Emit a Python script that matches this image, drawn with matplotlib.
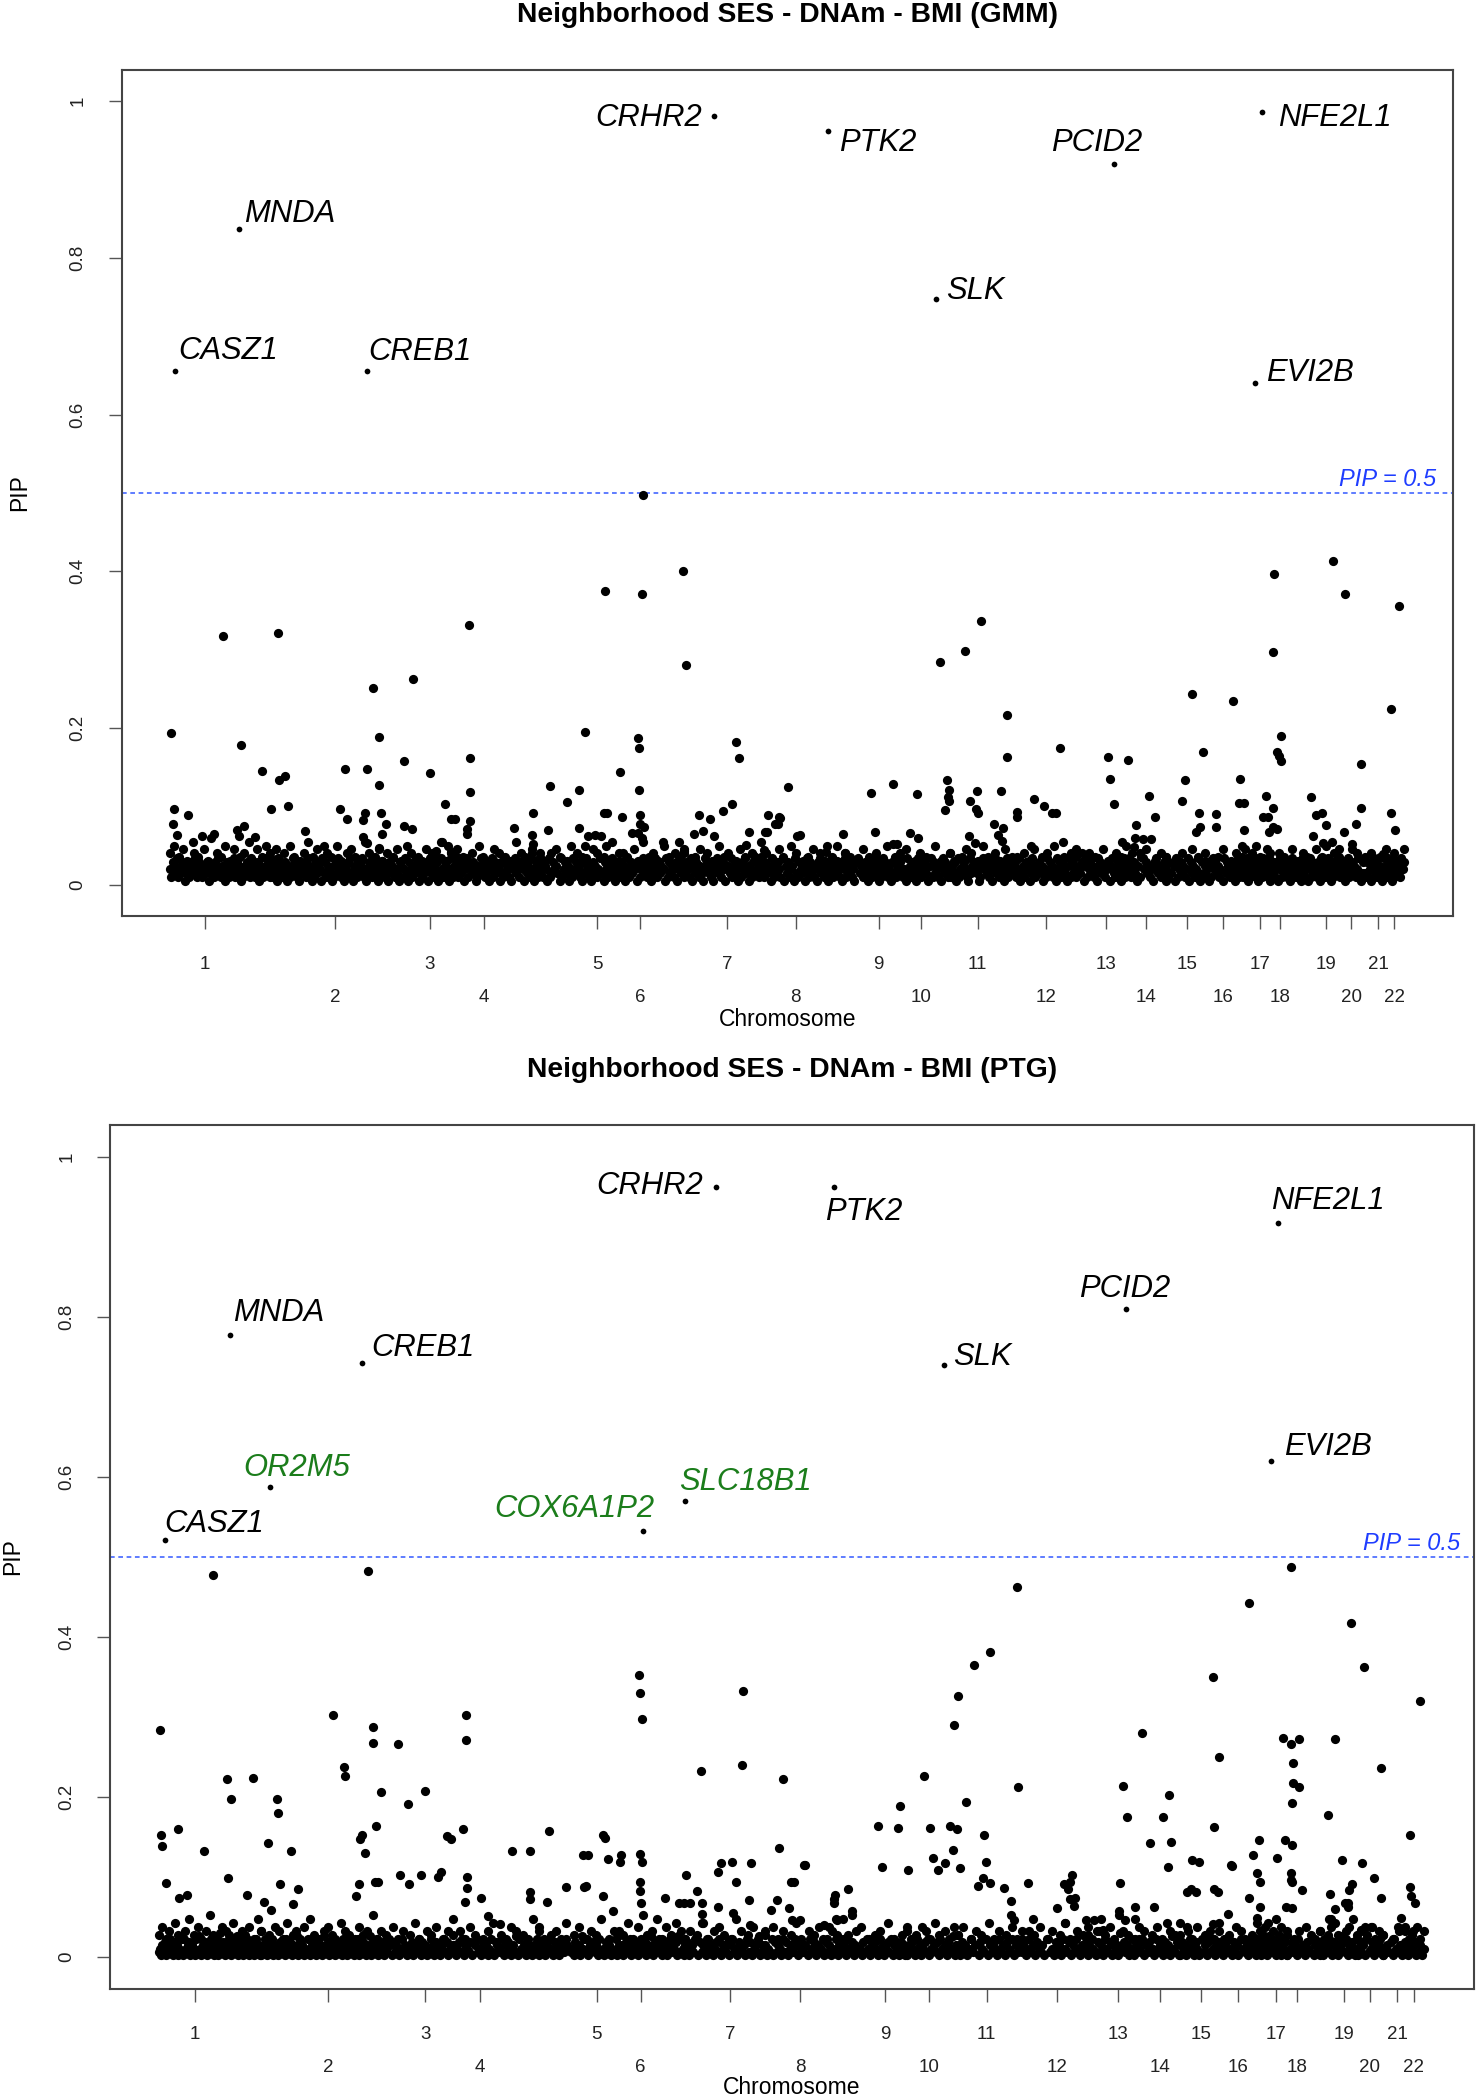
import numpy as np
import matplotlib.pyplot as plt
from matplotlib.transforms import offset_copy, blended_transform_factory

plt.rcParams['font.family'] = ['Liberation Sans', 'DejaVu Sans']

# chromosome layout on the cumulative position axis (0-1000)
chromosomes = [str(i) for i in range(1, 23)]
chrom_centers = [62.4, 160.0, 231.4, 271.6, 357.1, 389.3, 454.7, 506.0, 568.4, 600.6,
                 642.9, 694.2, 739.4, 769.6, 799.8, 827.0, 855.1, 870.2, 904.4, 923.5,
                 943.7, 955.7]
chrom_bounds = [36, 111.2, 195.7, 251.5, 314.4, 373.2, 422.0, 480.4, 537.2, 584.5, 621.8,
                668.6, 716.8, 754.5, 784.7, 813.4, 841.1, 862.7, 887.3, 914.0, 933.6,
                949.7, 963]

# ---- GMM panel ----
gmm_genes = ["CASZ1", "MNDA", "CREB1", "CRHR2", "PTK2", "SLK", "PCID2", "EVI2B", "NFE2L1"]
gmm_gene_x = [39.9, 88.1, 184.2, 444.5, 530.4, 611.9, 745.0, 850.9, 856.2]
gmm_gene_pip = [0.656, 0.837, 0.656, 0.981, 0.962, 0.748, 0.920, 0.641, 0.986]

# CpGs above the main band
gmm_x = [36.5, 75.7, 117, 89.1, 38.8, 38.5, 49.9, 41.1, 105.2, 117.6, 122.7, 124.5, 111.6, 86.4, 88,
         91.5, 137.8, 69, 60, 99.9,
         188.7, 218.3, 193, 167.9, 184, 211.6, 231.3, 193, 163.6, 169, 182.7, 181.4, 194.4, 198,
         181, 184, 195, 193.3, 212, 218, 242.4, 247, 250.5, 260.5, 261.5, 261.2, 261.3, 259,
         259.5, 240, 245, 236, 247, 152,
         362.5, 390.3, 421.2, 423.9, 391.3, 348.1, 388, 388.5, 374.2, 321.6, 343.4, 388.7, 334,
         308.8, 362, 364, 375.3, 294.8, 319.9, 343.4, 389, 389.5, 392, 388, 390.5, 383.3, 360,
         350, 355, 363.5, 347.5, 308, 308.8, 308,
         461.4, 463.8, 451.2, 458, 433.6, 441.6, 436.3, 430, 445, 406.8, 418.8, 470.8, 468.5,
         500.7, 485.6, 494, 490.6, 483.2, 507.4, 482, 475, 422.2,
         509.5, 530, 529, 542, 543, 484.5, 493.8, 492.5, 562.8, 579, 597.2, 565.9, 568, 579,
         582, 592, 598,
         614.4, 633.2, 645.6, 664.8, 664.8, 620, 621.5, 620.5, 621.5, 618, 642.2, 637, 641.5,
         643, 660.4, 672.7, 672.7, 684.8, 693, 698.5, 701.5, 636, 641, 655, 658, 662, 661,
         682.6, 707.1, 721.5, 705,
         740.4, 755.9, 742.5, 745, 761.8, 771.4, 776.2, 765, 751, 761, 760, 773, 767,
         803.6, 798.8, 796, 812.5, 809.4, 810, 807, 821.9, 821.9, 834.9, 840, 839.5, 843, 843,
         865.8, 864.9, 871, 867.5, 869, 871, 859.6, 857, 861, 864.9, 862, 864.9, 868,
         909.5, 919.1, 893.3, 897, 901.5, 904.6, 895, 902, 909, 931.1, 931.1, 926.9, 918, 924,
         959.6, 953.4, 953.4, 956.2, 947]
gmm_pip = [0.193, 0.317, 0.321, 0.178, 0.097, 0.077, 0.089, 0.063, 0.145, 0.133, 0.139, 0.101,
           0.097, 0.070, 0.062, 0.075, 0.068, 0.065, 0.062, 0.061,
           0.251, 0.262, 0.189, 0.148, 0.148, 0.158, 0.142, 0.127, 0.097, 0.084, 0.092, 0.083,
           0.092, 0.078, 0.061, 0.053, 0.065, 0.047, 0.075, 0.071, 0.103, 0.084, 0.084, 0.332,
           0.162, 0.118, 0.081, 0.071, 0.065, 0.055, 0.049, 0.043, 0.042, 0.050,
           0.375, 0.371, 0.401, 0.280, 0.498, 0.195, 0.187, 0.175, 0.144, 0.126, 0.121, 0.121,
           0.106, 0.092, 0.092, 0.092, 0.086, 0.072, 0.070, 0.072, 0.089, 0.078, 0.074, 0.066,
           0.060, 0.066, 0.062, 0.062, 0.063, 0.050, 0.050, 0.063, 0.052, 0.040,
           0.182, 0.162, 0.094, 0.103, 0.089, 0.084, 0.069, 0.065, 0.062, 0.055, 0.055, 0.067,
           0.051, 0.125, 0.089, 0.085, 0.078, 0.067, 0.062, 0.044, 0.036, 0.043,
           0.063, 0.049, 0.042, 0.065, 0.040, 0.067, 0.087, 0.078, 0.117, 0.128, 0.116, 0.067,
           0.032, 0.052, 0.052, 0.066, 0.060,
           0.284, 0.298, 0.336, 0.217, 0.163, 0.134, 0.121, 0.112, 0.107, 0.095, 0.120, 0.107,
           0.097, 0.091, 0.119, 0.093, 0.086, 0.110, 0.100, 0.092, 0.092, 0.062, 0.053, 0.078,
           0.063, 0.072, 0.056, 0.049, 0.054, 0.041, 0.175,
           0.163, 0.159, 0.135, 0.103, 0.076, 0.113, 0.086, 0.040, 0.054, 0.060, 0.048, 0.058,
           0.058,
           0.244, 0.133, 0.107, 0.169, 0.092, 0.073, 0.067, 0.090, 0.073, 0.234, 0.135, 0.104,
           0.104, 0.070,
           0.397, 0.297, 0.190, 0.169, 0.164, 0.158, 0.113, 0.087, 0.087, 0.098, 0.067, 0.074,
           0.071,
           0.413, 0.371, 0.112, 0.089, 0.092, 0.076, 0.062, 0.053, 0.054, 0.154, 0.098, 0.077,
           0.067, 0.052,
           0.356, 0.224, 0.092, 0.070, 0.039]

# main band of low-PIP CpGs, one digit per CpG in position order
# (PIP = base + step * digit, '.' = no CpG at that slot)
gmm_band = [
    "3152461325402315342613521432503241526314203512436152403142531624135023146251",
    "2415306241352031462513042351624031524306251432041526314023516204315246130254136250314",
    "42130524613205413620531426305142350624135026314520361425",
    "3142503614.2530142635124036152430516243105362415.30425163024153",
    "2514306125342.061352403162543105264130524136.2053142650314",
    "1352406315243.0513624135042631524.3061524315036241",
    "4253160425314206352410536241530.4261352041536240315263142",
    "3.1524306142531.60425134062153240361524130562413502461352",
    "24150361524130.562413520461352403162541305261432",
    "5213062415302641352.0461523140625314",
    "3142506132453106243.5201463524130562413520461352",
    "4251360241535026413.5240316254130624153204615234",
    "1.325406135241306524.1350462135204613",
    "2461352041.63524130562413520",
    "3152.40613524136052413620514",
    "2530416352413.062541352046135",
    "41352603142536140253162435160",
    "3.2514036152413506241352031",
    "25140361524315206341526304152436",
    "4135204613524136.0251",
    "2.5130462513420614",
    "3152406135241635",
]
# sparser fringe just above the band
gmm_fringe = [
    "2.4..1.3.0..52.1..3.0.6..2.1.4..0.3..1.2..5.0.3..1.4.2",
    "1..3.0.2..4.1..0.2.5..1.3..0.2.1..4.0..2.3.1..0.5.2..1.3.0",
    "0.2..1.3.0..4.2..1.0.3..2.1..5.0.2..1",
    "3..1.0.2..4.1..0.3.2..1.0..5.2.1..3.0.2",
    "1.0..2.3.1..0.4..2.1.0..3.2..1.0.5..2",
    "0.2.1..3.0.5..1.2.0..4.1..2.0.3",
    "2..0.1.3..2.0..4.1.2..0.3.1..2.0.5",
    "1.2..0.3.1..4.2..0.1.3..2.0..1.4",
    "0..2.1.0..3.1..2.0.4..1.2",
    "1.3..0.2.1..4.0..2",
    "2.0..1.3.2..0.4.1..2.0.3..1",
    "0.1..2.0.3..1.2..4.0.1..2.3",
    "1..0.2.1..3.0..2.1.4",
    "0.2..1.3..0.2.1",
    "1..0.2..3.1.0",
    "2.0..1.3..0.2.4",
    "1.3.0.2.4.1.0.3.2",
    "0..2.1..3.0.1",
    "2.1.0.3..1.4.0.2.3",
    "1..0.3.2..1",
    "0.2..1.3",
    "1..2.0.3",
]

# ---- PTG panel ----
ptg_genes = ["CASZ1", "MNDA", "OR2M5", "CREB1", "COX6A1P2", "SLC18B1", "CRHR2", "PTK2",
             "SLK", "PCID2", "EVI2B", "NFE2L1"]
ptg_gene_x = [40.5, 88.2, 117.6, 185.0, 390.8, 421.9, 444.4, 531.0, 611.9, 745.2, 851.3, 856.4]
ptg_gene_pip = [0.521, 0.778, 0.588, 0.743, 0.532, 0.570, 0.963, 0.963, 0.740, 0.810, 0.620,
                0.917]
ptg_new_genes = ["OR2M5", "COX6A1P2", "SLC18B1"]

ptg_x = [76.1, 189.1, 37.3, 163.9, 193, 193, 211.6, 261.4, 261.4, 388.4, 388.8, 390.5, 464.4,
         463.5, 433.3, 493.8, 172, 172.7, 86.4, 89, 105.5, 123.1, 123.4, 198.8, 218.5, 231,
         37.6, 38.2, 50.1, 69.1, 115.8, 133.1, 41.5, 51, 57, 87.1, 101, 125.2, 134.8, 138.3,
         113.5, 118.5,
         183.3, 184.7, 187.4, 182.9, 180.6, 195.4, 194.7, 197, 213, 219.2, 228.2, 241, 243,
         247.2, 250.5, 259.3, 261.8, 261.8, 260.2, 272.5, 277.7, 286.3,
         295, 308.5, 322.3, 308.5, 308.5, 320.6, 334.4, 347, 350.5, 349, 347.5, 361.8, 363.5,
         365.6, 375, 374.3, 361.8, 369.3, 388.6, 390, 388.6, 388.6, 389.3, 407.4,
         422.6, 430.2, 421, 425.2, 417.5, 434.3, 434.3, 435.3, 446, 448.5, 456.4, 459.3, 468.6,
         470.3, 446, 457, 469.5, 489.3, 491, 485, 499.7, 501.4, 498, 509.4, 500, 530.8, 532.5,
         866.2, 665.2, 835.1, 909.5, 919.6, 960.2, 645.3, 633.3, 621.5, 618.7, 808.6, 813,
         756.7, 898.4, 859.8, 866.1, 871.5, 867.6, 867, 871.7, 866.6, 931.6, 665.8, 597.2,
         579.5, 578.2, 563, 566.2, 601, 615.7, 621, 627.9, 618.3, 603.5, 612, 607.5, 585.2,
         641.2, 642.2, 640.5, 645.3, 623, 636.8, 655.8, 660.5, 661, 662.6, 673.1, 677,
         742.8, 745.6, 740.4, 740, 744, 751.4, 751.4, 762.4, 765.6, 771.8, 775.6, 778.1, 776.8,
         775, 793.2, 798.6, 789.7, 792.3, 796.4, 790, 809.8, 809.8, 812.3, 808.8, 821.9, 823,
         819.6, 835.1, 838.3, 842.5, 840.8, 843, 843, 840.8,
         855.7, 861.4, 866.8, 866.2, 866.2, 866.8, 873.8, 862.1, 866.8, 892.7, 894.6, 898.4,
         895.2, 894, 903.2, 907.3, 907.8, 905.3, 910.5, 908.6, 918.1, 927, 931.6, 917, 920,
         925.4, 952.9, 953, 953.6, 957.1, 946.6, 944.4, 955.6,
         506, 509.2, 532, 531.3, 533, 541.5, 544, 544, 523.5, 527.6, 705.4, 703.8, 699.6, 702.8,
         694.7, 700.2, 703.9, 707.2, 707.8, 716, 721.7, 724.9, 728]
ptg_pip = [0.478, 0.483, 0.284, 0.303, 0.287, 0.268, 0.266, 0.302, 0.271, 0.352, 0.330, 0.298,
           0.332, 0.240, 0.232, 0.222, 0.238, 0.226, 0.222, 0.198, 0.224, 0.198, 0.180, 0.206,
           0.191, 0.208,
           0.153, 0.139, 0.160, 0.133, 0.142, 0.133, 0.093, 0.074, 0.077, 0.099, 0.077, 0.091,
           0.066, 0.085, 0.069, 0.059,
           0.147, 0.153, 0.130, 0.091, 0.076, 0.164, 0.094, 0.094, 0.103, 0.091, 0.103, 0.100,
           0.106, 0.151, 0.147, 0.160, 0.100, 0.086, 0.069, 0.074, 0.051, 0.041,
           0.133, 0.133, 0.158, 0.081, 0.072, 0.069, 0.088, 0.127, 0.127, 0.089, 0.087, 0.153,
           0.149, 0.123, 0.127, 0.119, 0.076, 0.057, 0.129, 0.119, 0.094, 0.083, 0.068, 0.074,
           0.103, 0.083, 0.068, 0.068, 0.068, 0.068, 0.054, 0.043, 0.106, 0.118, 0.119, 0.094,
           0.071, 0.118, 0.063, 0.055, 0.040, 0.071, 0.136, 0.059, 0.094, 0.094, 0.061, 0.115,
           0.046, 0.072, 0.048,
           0.487, 0.462, 0.442, 0.417, 0.363, 0.320, 0.381, 0.365, 0.326, 0.290, 0.350, 0.250,
           0.280, 0.272, 0.274, 0.266, 0.273, 0.242, 0.217, 0.213, 0.193, 0.236, 0.212, 0.226,
           0.189, 0.161, 0.164, 0.113, 0.161, 0.164, 0.160, 0.194, 0.134, 0.124, 0.117, 0.109,
           0.109, 0.153, 0.119, 0.099, 0.093, 0.111, 0.089, 0.086, 0.070, 0.053, 0.046, 0.093,
           0.047,
           0.214, 0.175, 0.092, 0.057, 0.046, 0.063, 0.048, 0.143, 0.063, 0.175, 0.112, 0.144,
           0.202, 0.042, 0.121, 0.119, 0.081, 0.085, 0.081, 0.038, 0.162, 0.085, 0.081, 0.041,
           0.115, 0.114, 0.054, 0.074, 0.128, 0.146, 0.105, 0.094, 0.062, 0.049,
           0.124, 0.146, 0.140, 0.105, 0.096, 0.094, 0.084, 0.063, 0.061, 0.178, 0.079, 0.060,
           0.047, 0.047, 0.121, 0.063, 0.068, 0.068, 0.091, 0.084, 0.117, 0.099, 0.074, 0.034,
           0.038, 0.038, 0.153, 0.087, 0.076, 0.067, 0.049, 0.037, 0.032,
           0.046, 0.115, 0.077, 0.068, 0.046, 0.085, 0.058, 0.052, 0.040, 0.037, 0.103, 0.094,
           0.091, 0.085, 0.061, 0.042, 0.072, 0.064, 0.074, 0.046, 0.046, 0.032, 0.034]

ptg_band = [
    "1203140215320413026105213403120516203142031520413072140231502413601320415203140251302",
    "0213041250312042130512403126041302152031402513062140315203142051302413021503142031604213",
    "2031402153041320.5130214031250413021530412035140213",
    "1302415032140.35120413025104321503142031605213041203152",
    "0412031520413024153.1204130621503241305120413021503",
    "2130.42150314203512403162041352031402513240615203",
    "1402315.041320513024150321403512042130514023160312",
    "3021504132051402315304213.0521403125041302150314",
    "1305214031.204152031420513024150312041302",
    "0314205130241502.3140521304126031",
    "2041302513.042150314205130421503124",
    "1402513042130.5120413052140315203142",
    "0312.04130521403130724130250314",
    "2150314.20513204130621403",
    "0413025130420.513041520314",
    "1302415204130.52140315204",
    "3140521304615230413052140",
    "0.2413052130421503140",
    "1304215304130624150314205",
    "2041305.1240313520",
    "0.31405213024",
    "1402513041302",
]
ptg_fringe = [
    "1.3.0.2..4.1.0.2.5..1.3.0..2.6.1.0..3.2.1.4..0.2.1.3..0.5.2",
    "2.0.1..3.2.0.4..1.2.0.3..5.1.0..2.3.1.0..4.2.1..0.3.1.2..6.0",
    "0.2.1..3.0.2..1.4.0..2.1.3..0.2.5",
    "1..2.0.3.1..0.2.4..1.0.3.2..1.0.5.2",
    "3.0..1.2.0.4..1.3.0..2.1.5..0.2.1",
    "2.1.4.0.3.6.1.2.5.0.3.1.4.2.0",
    "0.2..1.4.0..2.3.1..0.5.2..1.3.0..2",
    "1..3.0.2..1.4.0..2.1.3..0.2.1.5",
    "0.1..2.3..0.1.2..4.0..1.3",
    "2.0.1..3.2.0.4.1..2.0.3.1",
    "1.3..0.2.1..4.0.2..1.3.0.2",
    "0..2.1.3..0.2..1.4.0..2.1.3",
    "1.0.2.5.1.3.0.6.2.1..0.3",
    "0.2..1.3.0..2.1.4",
    "1..2.0.3..1.2.0.4",
    "2.0.1..3.2.0..1.4",
    "0.2.1.3.4.0.2.5.1.3.0.2",
    "1..0.2..3.1.0.2",
    "2.0.1.3.4.1.0.2.3.5.1",
    "0.2..1.3.0.2.1",
    "1..0.2.3",
    "2.0.1..3.0.2",
]


def band_points(strings, base, step):
    xs, ys = [], []
    for i, s in enumerate(strings):
        pos = np.linspace(chrom_bounds[i], chrom_bounds[i + 1], len(s))
        for p, ch in zip(pos, s):
            if ch == '.':
                continue
            xs.append(p)
            ys.append(base + step * int(ch))
    return xs, ys


# label placement: (ha, dx px, dy px to baseline)
gmm_label_pos = {
    "CASZ1": ("left", 3, 12), "MNDA": ("left", 5, 7), "CREB1": ("left", 1, 11),
    "CRHR2": ("right", -12, -10), "PTK2": ("left", 11, -20), "SLK": ("left", 10, 0),
    "PCID2": ("center", -17, 13), "EVI2B": ("left", 11, 2), "NFE2L1": ("left", 16, -14),
}
ptg_label_pos = {
    "CASZ1": ("left", 0, 8), "MNDA": ("left", 3, 14), "OR2M5": ("left", -27, 11),
    "CREB1": ("left", 9, 7), "COX6A1P2": ("right", 12, 14), "SLC18B1": ("left", -6, 11),
    "CRHR2": ("right", -13, -7), "PTK2": ("left", -9, -33), "SLK": ("left", 9, 0),
    "PCID2": ("center", -2, 12), "EVI2B": ("left", 13, 6), "NFE2L1": ("left", -7, 14),
}

fig = plt.figure(figsize=(14.77, 21.0), dpi=100)


def draw_panel(rect, title, band, band_scale, fringe, fringe_scale, xs, ps, genes, gx, gp,
               label_pos, green, pad1, pad2, title_off, pip_off, ylab_off, xlab_off, ytick_pad):
    ax = fig.add_axes(rect)
    bx, by = band_points(band, *band_scale)
    fx, fy = band_points(fringe, *fringe_scale)
    ax.scatter(bx, by, s=44, c='black', linewidths=0, zorder=2)
    ax.scatter(fx, fy, s=44, c='black', linewidths=0, zorder=2)
    ax.scatter(xs, ps, s=44, c='black', linewidths=0, zorder=2)
    ax.scatter(gx, gp, s=17, c='black', linewidths=0, zorder=3)
    for g, x, y in zip(genes, gx, gp):
        ha, dx, dy = label_pos[g]
        ax.annotate(g, (x, y), xytext=(dx, dy), textcoords='offset pixels', ha=ha,
                    va='baseline', fontsize=22.3, fontstyle='italic',
                    color='#1b7d1b' if g in green else 'black')
    ax.axhline(0.5, color='#5272ff', lw=1.3, ls=(0, (2.6, 2.0)), zorder=1)
    tr = blended_transform_factory(ax.transAxes, ax.transData)
    ax.text(1, 0.5, 'PIP = 0.5', transform=offset_copy(tr, fig, x=pip_off, y=7, units='dots'),
            ha='right', va='baseline', fontsize=17, fontstyle='italic', color='#1f3dff')

    ax.set_xlim(0, 1000)
    ax.set_ylim(-0.04, 1.04)
    ax.set_yticks([0, 0.2, 0.4, 0.6, 0.8, 1.0])
    ax.set_yticklabels(['0', '0.2', '0.4', '0.6', '0.8', '1'], rotation=90, va='center')
    ax.xaxis.remove_overlapping_locs = False
    ax.set_xticks(chrom_centers)
    ax.set_xticklabels([c if int(c) % 2 == 1 else '' for c in chromosomes])
    ax.set_xticks(chrom_centers[1::2], minor=True)
    ax.set_xticklabels(chromosomes[1::2], minor=True)
    ax.tick_params(axis='both', which='major', direction='out', length=9.4, width=1.0,
                   color='#555555', labelsize=13.5, labelcolor='#222222')
    ax.tick_params(axis='x', which='major', pad=pad1)
    ax.tick_params(axis='y', which='major', pad=ytick_pad)
    ax.tick_params(axis='x', which='minor', length=0, pad=pad2, labelsize=13.5,
                   labelcolor='#222222')
    for sp in ax.spines.values():
        sp.set_linewidth(1.5)
        sp.set_color('#444444')

    ax.text(0.5, 1, title, transform=offset_copy(ax.transAxes, fig, y=title_off, units='dots'),
            ha='center', va='center', fontsize=20.3, fontweight='bold')
    ax.text(0, 0.5, 'PIP', transform=offset_copy(ax.transAxes, fig, x=ylab_off, units='dots'),
            ha='center', va='center', rotation=90, fontsize=16.5)
    ax.text(0.5, 0, 'Chromosome', transform=offset_copy(ax.transAxes, fig, y=xlab_off,
                                                       units='dots'),
            ha='center', va='center', fontsize=16.5)
    return ax


draw_panel([0.0826, 0.5638, 0.9012, 0.4029], 'Neighborhood SES - DNAm - BMI (GMM)',
           gmm_band, (0.005, 0.0048), gmm_fringe, (0.03, 0.005),
           gmm_x, gmm_pip, gmm_genes, gmm_gene_x, gmm_gene_pip, gmm_label_pos, [],
           pad1=19.7, pad2=52.8, title_off=55, pip_off=-17, ylab_off=-102, xlab_off=-103,
           ytick_pad=16)
draw_panel([0.07414, 0.05286, 0.92383, 0.41143], 'Neighborhood SES - DNAm - BMI (PTG)',
           ptg_band, (0.003, 0.0038), ptg_fringe, (0.022, 0.005),
           ptg_x, ptg_pip, ptg_genes, ptg_gene_x, ptg_gene_pip, ptg_label_pos,
           ptg_new_genes,
           pad1=17.5, pad2=50.6, title_off=55, pip_off=-14, ylab_off=-97, xlab_off=-99,
           ytick_pad=15)

fig.savefig('out.png', dpi=100)
